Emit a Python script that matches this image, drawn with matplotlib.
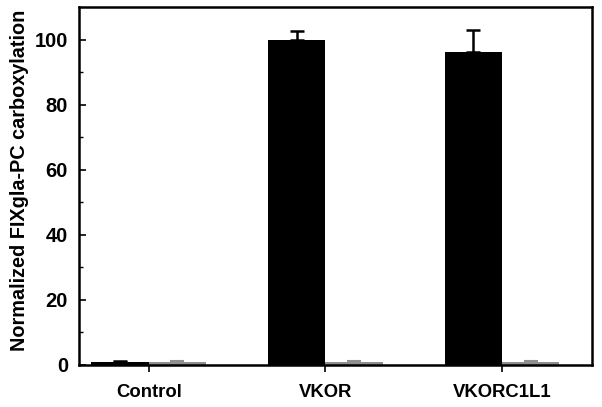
import matplotlib.pyplot as plt
import numpy as np

plt.rcParams['font.family'] = ['Liberation Sans', 'DejaVu Sans']
plt.rcParams['font.weight'] = 'bold'

# Daten
groups = ['Control', 'VKOR', 'VKORC1L1']
black_vals = [0.9, 100.0, 96.2]
black_err = [0.4, 2.5, 6.8]
gray_vals = [0.9, 0.9, 0.9]
gray_err = [0.3, 0.3, 0.3]

x = np.arange(1, len(groups) + 1)
w = 0.325

fig = plt.figure(figsize=(6.02, 4.07), dpi=100)
ax = fig.add_axes([79 / 602, 1 - 365 / 407, (592 - 79) / 602, (365 - 7) / 407])

ax.bar(x - w / 2, black_vals, w, color='black', zorder=2)
ax.errorbar(x - w / 2, black_vals, yerr=[np.zeros(3), black_err], fmt='none',
            ecolor='black', elinewidth=1.8, capsize=5, capthick=1.8, zorder=3)
ax.bar(x + w / 2, gray_vals, w, color='#8f8f8f', zorder=2)
ax.errorbar(x + w / 2, gray_vals, yerr=[np.zeros(3), gray_err], fmt='none',
            ecolor='#8f8f8f', elinewidth=1.5, capsize=5, capthick=1.5, zorder=3)

ax.set_xlim(0.605, 3.51)
ax.set_ylim(0, 110)
ax.set_xticks(x)
ax.set_xticklabels(groups, fontsize=13.3, fontweight='bold')
ax.set_yticks(np.arange(0, 101, 20))
ax.set_yticks(np.arange(10, 101, 20), minor=True)
ax.tick_params(axis='y', which='major', direction='in', length=5, width=1.2,
               labelsize=14.5, pad=8)
ax.tick_params(axis='y', which='minor', direction='in', length=3, width=1.0)
ax.tick_params(axis='x', direction='out', length=5, width=1.2, pad=9)
for lbl in ax.get_yticklabels():
    lbl.set_fontweight('bold')
for s in ax.spines.values():
    s.set_linewidth(1.8)

ax.set_ylabel('Normalized FIXgla-PC carboxylation', fontsize=14.3, fontweight='bold')
ax.yaxis.set_label_coords(-0.098, 0.515)

plt.savefig('out.png', dpi=100)
